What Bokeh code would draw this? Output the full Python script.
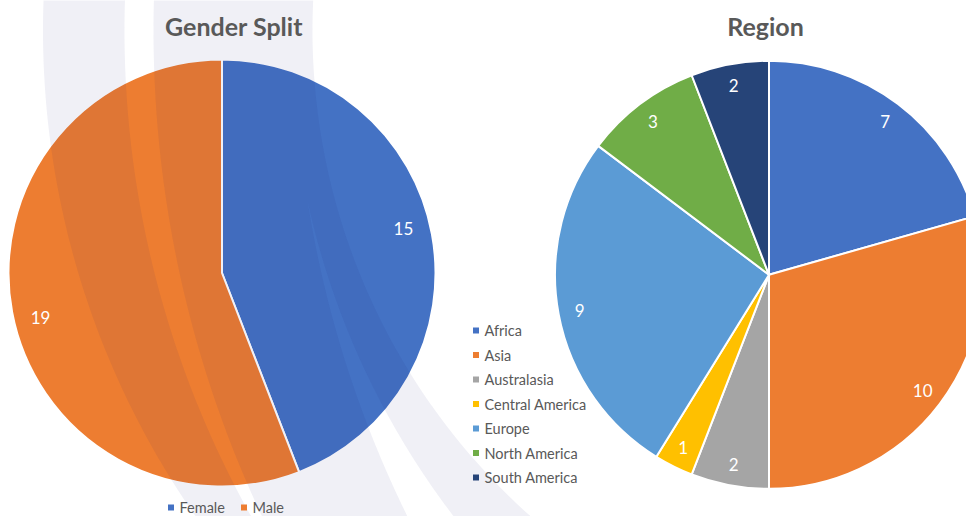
import numpy as np
from bokeh.plotting import figure
from bokeh.models import Range1d, ColumnDataSource
from bokeh.core.properties import value
from bokeh.embed import file_html
from bokeh.resources import INLINE

# ---------------- data ----------------
gender_title = "Gender Split"
gender_labels = ["Female", "Male"]
gender_values = [15, 19]
gender_colors = ["#4472C4", "#ED7D31"]

region_title = "Region"
region_labels = ["Africa", "Asia", "Australasia", "Central America",
                 "Europe", "North America", "South America"]
region_values = [7, 10, 2, 1, 9, 3, 2]
region_colors = ["#4472C4", "#ED7D31", "#A5A5A5", "#FFC000",
                 "#5B9BD5", "#70AD47", "#264478"]

# ---------------- layout ----------------
W, H = 966, 516


def fy(Y):
    """screen Y (from the top of the figure) -> data y"""
    return H - np.asarray(Y, dtype=float)


TEXT_GREY = "#595959"
FONT = value("Lato")

p = figure(width=W, height=H, x_range=Range1d(0, W), y_range=Range1d(0, H),
           output_backend="svg", toolbar_location=None,
           x_axis_location=None, y_axis_location=None, min_border=0)
p.grid.visible = False
p.outline_line_color = None
p.background_fill_color = "white"
p.border_fill_color = "white"


def draw_pie(cx, cy, r, values, colors, label_frac, label_rot_deg=0.0):
    vals = np.array(values, dtype=float)
    cum = np.concatenate([[0.0], np.cumsum(vals)]) / vals.sum()
    start = np.pi / 2 - 2 * np.pi * cum[1:]
    end = np.pi / 2 - 2 * np.pi * cum[:-1]
    mid = (start + end) / 2 + np.deg2rad(label_rot_deg)
    src = ColumnDataSource(dict(start=start, end=end, color=colors))
    p.wedge(x=cx, y=float(fy(cy)), radius=r, start_angle="start", end_angle="end",
            fill_color="color", line_color="white", line_width=2, source=src)
    return dict(x=cx + label_frac * r * np.cos(mid),
                y=float(fy(cy)) + label_frac * r * np.sin(mid),
                text=[str(v) for v in values])


g_lab = draw_pie(221.5, 272.5, 213.5, gender_values, gender_colors, 0.875, 3.2)
r_lab = draw_pie(768.5, 274.3, 214.0, region_values, region_colors, 0.90)

# ---------------- decorative background swooshes (overlay) ----------------
def arc_x(cx, cy, R, ys):
    return cx - np.sqrt(R ** 2 - (ys - cy) ** 2)

ys = np.linspace(-5, 540, 220)
LA = arc_x(892.5, 30, 850, ys)
RA = arc_x(1119, 30, 995, ys)
LB = arc_x(1295, 30, 1142, ys)
RB2 = arc_x(962, 30, 650, ys)
ysh = np.linspace(200, 535, 160)
RB1 = arc_x(1393.8, 30, 1100, ysh)
LB2 = arc_x(1088.7, 30, 800, ysh)

bandA_x = np.concatenate([LA, RA[::-1]])
bandA_y = fy(np.concatenate([ys, ys[::-1]]))
bandB_x = np.concatenate([LB, RB2[::-1]])
bandB_y = fy(np.concatenate([ys, ys[::-1]]))
hole_x = np.concatenate([LB2, RB1[::-1]])
hole_y = fy(np.concatenate([ysh, ysh[::-1]]))

p.multi_polygons(xs=[[[bandA_x.tolist()]], [[bandB_x.tolist(), hole_x.tolist()]]],
                 ys=[[[bandA_y.tolist()]], [[bandB_y.tolist(), hole_y.tolist()]]],
                 fill_color="#19237D", fill_alpha=0.065, line_color=None)

# ---------------- data labels ----------------
for lab in (g_lab, r_lab):
    p.text(x=lab["x"], y=lab["y"], text=lab["text"], text_font=FONT,
           text_font_size="17px", text_color="white",
           text_align="center", text_baseline="middle")

# ---------------- titles ----------------
p.text(x=[233.5, 765.0], y=fy([25, 25]), text=[gender_title, region_title],
       text_font=FONT, text_font_size="25px", text_font_style="bold",
       text_color=TEXT_GREY, text_align="center", text_baseline="middle")

# ---------------- legends ----------------
g_leg_sq_x = [170.5, 243.5]
g_leg_y = 507.0
p.scatter(x=g_leg_sq_x, y=fy([g_leg_y] * 2), marker="square", size=6,
          fill_color=gender_colors, line_color=None)
p.text(x=[x + 8.5 for x in g_leg_sq_x], y=fy([g_leg_y] * 2), text=gender_labels,
       text_font=FONT, text_font_size="14.5px", text_color=TEXT_GREY,
       text_align="left", text_baseline="middle")

r_leg_x = 475.5
r_leg_y = 330 + 24.5 * np.arange(len(region_labels))
p.scatter(x=[r_leg_x] * len(region_labels), y=fy(r_leg_y), marker="square", size=6,
          fill_color=region_colors, line_color=None)
p.text(x=[r_leg_x + 8.5] * len(region_labels), y=fy(r_leg_y), text=region_labels,
       text_font=FONT, text_font_size="14.5px", text_color=TEXT_GREY,
       text_align="left", text_baseline="middle")

open("out.html", "w").write(file_html(p, INLINE))
